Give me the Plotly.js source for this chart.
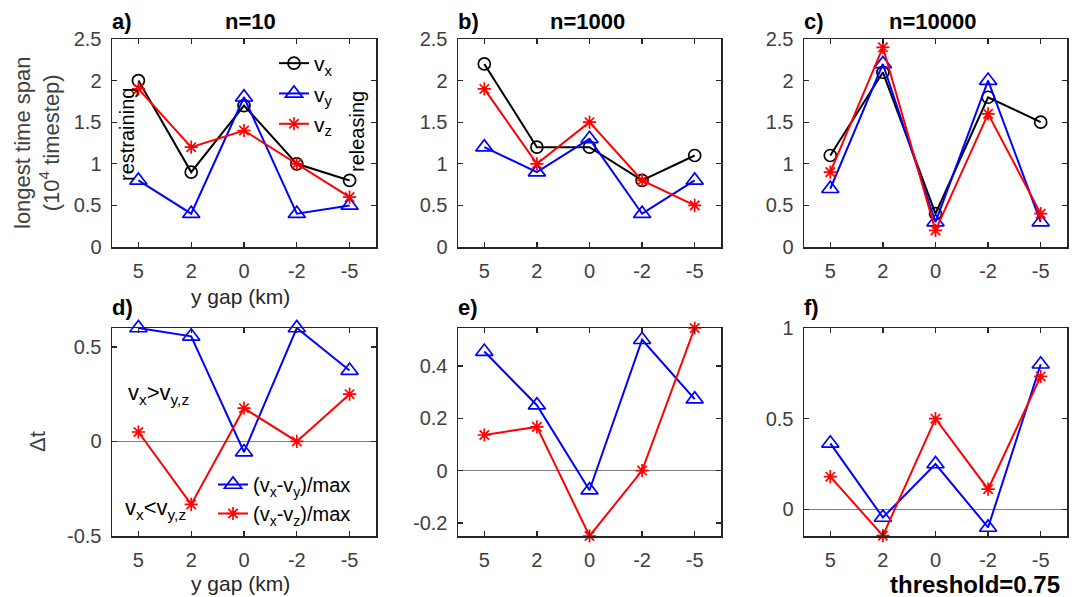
<!DOCTYPE html>
<html>
<head>
<meta charset="utf-8">
<script src="https://cdn.plot.ly/plotly-3.0.1.min.js"></script>
<style>html,body{margin:0;padding:0;background:#fff}#chart{width:1080px;height:597px}</style>
</head>
<body>
<div id="chart"></div>
<script>
// ---- data ----
const gaps = ['5', '2', '0', '-2', '-5'];

// n = 10
const vx10 = [2.0, 0.9, 1.7, 1.0, 0.8];
const vy10 = [0.8, 0.4, 1.8, 0.4, 0.5];
const vz10 = [1.9, 1.2, 1.4, 1.0, 0.6];
// n = 1000
const vx1000 = [2.2, 1.2, 1.2, 0.8, 1.1];
const vy1000 = [1.2, 0.9, 1.3, 0.4, 0.8];
const vz1000 = [1.9, 1.0, 1.5, 0.8, 0.5];
// n = 10000
const vx10000 = [1.1, 2.1, 0.4, 1.8, 1.5];
const vy10000 = [0.7, 2.2, 0.3, 2.0, 0.3];
const vz10000 = [0.9, 2.4, 0.2, 1.6, 0.4];

const dxy10 = [0.6, 0.556, -0.056, 0.6, 0.375];
const dxz10 = [0.05, -0.333, 0.176, 0.0, 0.25];
const dxy1000 = [0.455, 0.25, -0.075, 0.5, 0.273];
const dxz1000 = [0.136, 0.167, -0.25, 0.0, 0.545];
const dxy10000 = [0.364, -0.045, 0.25, -0.1, 0.8];
const dxz10000 = [0.18, -0.145, 0.5, 0.111, 0.733];

// tick labels
const topTicks = [0, 0.5, 1, 1.5, 2, 2.5];
const topTickText = ['0', '0.5', '1', '1.5', '2', '2.5'];
const dTicks = [-0.5, 0, 0.5];
const dTickText = ['-0.5', '0', '0.5'];
const eTicks = [-0.2, 0, 0.2, 0.4];
const eTickText = ['-0.2', '0', '0.2', '0.4'];
const fTicks = [0, 0.5, 1];
const fTickText = ['0', '0.5', '1'];

// ---- styling helpers ----
const W = 1080, H = 597;
const px = x => x / W;
const py = y => 1 - y / H;
const BLACK = '#000000', BLUE = '#0000ff', RED = '#ff0000';
const AX = '#262626', TXT = '#404040';
const FONT = 'Liberation Sans, Arial, Helvetica, sans-serif';

function tr(y, color, symbol, size, xa, ya, name, showleg, legend) {
  return {
    x: gaps, y: y, xaxis: xa, yaxis: ya, name: name,
    type: 'scatter', mode: 'lines+markers', cliponaxis: false,
    showlegend: showleg, legend: legend || 'legend',
    line: {color: color, width: 2},
    marker: {symbol: symbol, size: size, color: color, line: {color: color, width: 1.7}}
  };
}
const VX = ['circle-open', 12], VY = ['triangle-up-open', 15], VZ = ['asterisk-open', 11];

const data = [
  tr(vx10, BLACK, VX[0], VX[1], 'x', 'y', 'v<sub>x</sub>', true),
  tr(vy10, BLUE, VY[0], VY[1], 'x', 'y', 'v<sub>y</sub>', true),
  tr(vz10, RED, VZ[0], VZ[1], 'x', 'y', 'v<sub>z</sub>', true),
  tr(vx1000, BLACK, VX[0], VX[1], 'x2', 'y2', 'vx', false),
  tr(vy1000, BLUE, VY[0], VY[1], 'x2', 'y2', 'vy', false),
  tr(vz1000, RED, VZ[0], VZ[1], 'x2', 'y2', 'vz', false),
  tr(vx10000, BLACK, VX[0], VX[1], 'x3', 'y3', 'vx', false),
  tr(vy10000, BLUE, VY[0], VY[1], 'x3', 'y3', 'vy', false),
  tr(vz10000, RED, VZ[0], VZ[1], 'x3', 'y3', 'vz', false),
  tr(dxy10, BLUE, VY[0], VY[1], 'x4', 'y4', '(v<sub>x</sub>-v<sub>y</sub>)/max', true, 'legend2'),
  tr(dxz10, RED, VZ[0], VZ[1], 'x4', 'y4', '(v<sub>x</sub>-v<sub>z</sub>)/max', true, 'legend2'),
  tr(dxy1000, BLUE, VY[0], VY[1], 'x5', 'y5', 'dxy', false),
  tr(dxz1000, RED, VZ[0], VZ[1], 'x5', 'y5', 'dxz', false),
  tr(dxy10000, BLUE, VY[0], VY[1], 'x6', 'y6', 'dxy', false),
  tr(dxz10000, RED, VZ[0], VZ[1], 'x6', 'y6', 'dxz', false)
];

const colDom = [[px(112), px(376)], [px(458), px(721)], [px(804), px(1067)]];
const rowDom = [[py(247), py(39)], [py(536), py(328)]];

function xax(col, row, anchor) {
  return {
    domain: colDom[col], anchor: anchor, type: 'category',
    categoryorder: 'array', categoryarray: gaps, range: [-0.5, 4.5],
    showline: true, linecolor: AX, linewidth: 1.5, mirror: 'ticks',
    ticks: 'inside', ticklen: 5, tickwidth: 1.2, tickcolor: AX,
    showgrid: false, zeroline: false, ticklabelstandoff: 5,
    tickfont: {family: FONT, size: 20, color: TXT}
  };
}
function yax(col, row, anchor, range, tickvals, ticktext, zl) {
  return {
    domain: rowDom[row], anchor: anchor, range: range,
    tickmode: 'array', tickvals: tickvals, ticktext: ticktext,
    showline: true, linecolor: AX, linewidth: 1.5, mirror: 'ticks',
    ticks: 'inside', ticklen: 5, tickwidth: 1.2, tickcolor: AX,
    showgrid: false, zeroline: zl, zerolinecolor: '#808080', zerolinewidth: 1,
    ticklabelstandoff: 5,
    tickfont: {family: FONT, size: 20, color: TXT}
  };
}

const ann = [];
function A(text, x, y, opts) {
  ann.push(Object.assign({
    text: text, x: px(x), y: py(y), xref: 'paper', yref: 'paper',
    showarrow: false, xanchor: 'center', yanchor: 'middle',
    font: {family: FONT, size: 22, color: BLACK}
  }, opts || {}));
}
const bold = s => '<b>' + s + '</b>';
A(bold('a)'), 110, 22, {xanchor: 'left'});
A(bold('b)'), 456, 22, {xanchor: 'left'});
A(bold('c)'), 802, 22, {xanchor: 'left'});
A(bold('d)'), 110, 307, {xanchor: 'left'});
A(bold('e)'), 456, 307, {xanchor: 'left'});
A(bold('f)'), 802, 307, {xanchor: 'left'});
A(bold('n=10'), 250, 22);
A(bold('n=1000'), 587, 22);
A(bold('n=10000'), 932, 22);
A('longest time span<br>(10<sup>4</sup> timestep)', 37, 143, {textangle: -90, font: {family: FONT, size: 22, color: TXT}});
A('\u0394t', 37, 442, {textangle: -90, font: {family: FONT, size: 22, color: TXT}});
A('y gap (km)', 240, 296, {font: {family: FONT, size: 21, color: AX}});
A('y gap (km)', 240, 583, {font: {family: FONT, size: 21, color: AX}});
A('restraining', 127, 135, {textangle: -90, font: {family: FONT, size: 20, color: BLACK}});
A('releasing', 357, 132, {textangle: -90, font: {family: FONT, size: 20, color: BLACK}});
A('v<sub>x</sub>&gt;v<sub>y,z</sub>', 158, 394, {font: {family: FONT, size: 22, color: BLACK}});
A('v<sub>x</sub>&lt;v<sub>y,z</sub>', 155, 509, {font: {family: FONT, size: 22, color: BLACK}});
A(bold('threshold=0.75'), 975, 584, {font: {family: FONT, size: 24, color: BLACK}});

const layout = {
  width: W, height: H, margin: {l: 0, r: 0, t: 0, b: 0},
  paper_bgcolor: '#ffffff', plot_bgcolor: '#ffffff',
  font: {family: FONT, color: BLACK},
  xaxis: xax(0, 0, 'y'), yaxis: yax(0, 0, 'x', [0, 2.5], topTicks, topTickText, false),
  xaxis2: xax(1, 0, 'y2'), yaxis2: yax(1, 0, 'x2', [0, 2.5], topTicks, topTickText, false),
  xaxis3: xax(2, 0, 'y3'), yaxis3: yax(2, 0, 'x3', [0, 2.5], topTicks, topTickText, false),
  xaxis4: xax(0, 1, 'y4'), yaxis4: yax(0, 1, 'x4', [-0.5, 0.6], dTicks, dTickText, true),
  xaxis5: xax(1, 1, 'y5'), yaxis5: yax(1, 1, 'x5', [-0.25, 0.545], eTicks, eTickText, true),
  xaxis6: xax(2, 1, 'y6'), yaxis6: yax(2, 1, 'x6', [-0.147, 1], fTicks, fTickText, true),
  legend: {x: px(274), y: py(43), xanchor: 'left', yanchor: 'top', bgcolor: 'rgba(0,0,0,0)',
           font: {family: FONT, size: 21, color: BLACK}, itemwidth: 30, tracegroupgap: 0},
  legend2: {x: px(213), y: py(465), xanchor: 'left', yanchor: 'top', bgcolor: 'rgba(0,0,0,0)',
            font: {family: FONT, size: 20, color: BLACK}, itemwidth: 30, tracegroupgap: 0},
  annotations: ann
};

Plotly.newPlot('chart', data, layout, {staticPlot: true, displayModeBar: false});
</script>
</body>
</html>
